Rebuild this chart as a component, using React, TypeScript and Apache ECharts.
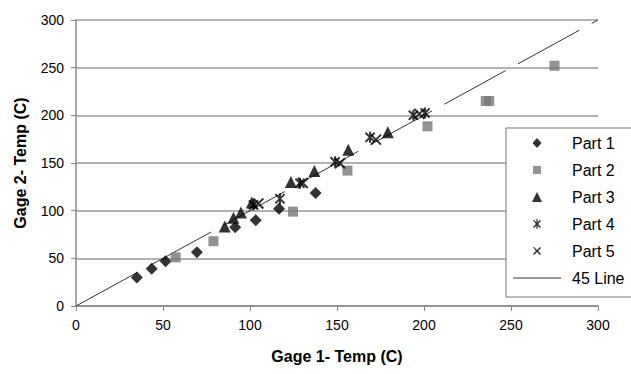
import React, { useEffect, useRef } from "react";
import * as echarts from "echarts";

const part1: number[][] = [[35, 30], [43.5, 39], [51.5, 47], [69.5, 56.5], [91.5, 82.5], [103.3, 90], [116.7, 102], [137.7, 118.5]];
const part2: number[][] = [[57.3, 51], [79, 68], [124.7, 99], [156, 142], [202, 188.5], [235.5, 215], [237.5, 215], [275, 252]];
const part3: number[][] = [[85.5, 83.5], [90.5, 92.5], [94.8, 98], [101, 108.5], [123.5, 130], [137, 141.5], [156.5, 164], [179.2, 182.3]];
const part4: number[][] = [[102, 106], [117.2, 112.5], [128.7, 128.8], [148.9, 151.3], [169, 177], [193.9, 200], [200.6, 202.5]];
const part5: number[][] = [[104.8, 107.5], [130.3, 129], [151.7, 149.7], [172.4, 174.5], [197.3, 201.5]];
const line45: number[][] = [[0, 0], [300, 300]];

const FONT = "'Liberation Sans', Arial, sans-serif";
const STAR = "path://M0,0L10,10M10,0L0,10M5,-1L5,11";
const XMARK = "path://M0,0L10,10M10,0L0,10";
const BOX = "M0,0M48,16";
const X_POLY = "M20,4.1L21.1,4L24,6.9L26.9,4L28,5.1L25.1,8L28,10.9L26.9,12L24,9.1L21.1,12L20,10.9L22.9,8Z";
const ICON_DIAMOND = `path://${BOX}M24,3L28.5,8L24,13L19.5,8Z`;
const ICON_SQUARE = `path://${BOX}M20,4L28,4L28,12L20,12Z`;
const ICON_TRIANGLE = `path://${BOX}M24,3L29,13L19,13Z`;
const ICON_STAR = `path://${BOX}${X_POLY}M23.4,3L24.6,3L24.6,13L23.4,13Z`;
const ICON_X = `path://${BOX}${X_POLY}`;
const ICON_LINE = `path://${BOX}M0,7.5L48,7.5L48,8.5L0,8.5Z`;

export default function App() {
  const ref = useRef<HTMLDivElement>(null);
  useEffect(() => {
    if (!ref.current) return;
    const chart = echarts.init(ref.current, undefined, { renderer: "svg" });
    const solid = { color: "#000", borderWidth: 0 };
    chart.setOption({
      animation: false,
      backgroundColor: "#fff",
      grid: { left: 76, right: 33, top: 20, bottom: 68 },
      xAxis: {
        type: "value",
        min: 0,
        max: 300,
        interval: 50,
        name: "Gage 1- Temp (C)",
        nameLocation: "middle",
        nameGap: 42,
        nameTextStyle: { fontFamily: FONT, fontSize: 16, fontWeight: "bold", color: "#000" },
        axisLine: { show: true, lineStyle: { color: "#888", width: 1.5 } },
        axisTick: { show: true, length: 5, lineStyle: { color: "#888" } },
        axisLabel: { margin: 12, fontFamily: FONT, fontSize: 14, color: "#000" },
        splitLine: { show: false },
      },
      yAxis: {
        type: "value",
        min: 0,
        max: 300,
        interval: 50,
        name: "Gage 2- Temp (C)",
        nameLocation: "middle",
        nameGap: 48,
        nameTextStyle: { fontFamily: FONT, fontSize: 16, fontWeight: "bold", color: "#000" },
        axisLine: { show: true, lineStyle: { color: "#888", width: 1.5 } },
        axisTick: { show: true, length: 5, lineStyle: { color: "#888" } },
        axisLabel: { margin: 12, fontFamily: FONT, fontSize: 14, color: "#000" },
        splitLine: { show: true, lineStyle: { color: "#999", width: 1.5 } },
      },
      legend: {
        orient: "vertical",
        left: 506,
        top: 128,
        padding: [7, 12, 11, 7],
        itemWidth: 48,
        itemHeight: 16,
        itemGap: 11,
        backgroundColor: "#fff",
        borderColor: "#777",
        borderWidth: 1,
        borderRadius: 0,
        data: [
          { name: "Part 1", icon: ICON_DIAMOND },
          { name: "Part 2", icon: ICON_SQUARE },
          { name: "Part 3", icon: ICON_TRIANGLE },
          { name: "Part 4", icon: ICON_STAR, itemStyle: solid },
          { name: "Part 5", icon: ICON_X, itemStyle: solid },
          { name: "45 Line", icon: ICON_LINE },
        ],
        textStyle: { fontFamily: FONT, fontSize: 16, color: "#000", padding: [0, 0, 0, 6] },
      },
      series: [
        {
          name: "45 Line",
          type: "line",
          data: line45,
          symbol: "none",
          itemStyle: { color: "#333" },
          lineStyle: { color: "#333", width: 1, type: [70, 14] },
          z: 1,
        },
        {
          name: "Part 1",
          type: "scatter",
          data: part1,
          symbol: "diamond",
          symbolSize: 12,
          itemStyle: { color: "#000" },
          z: 3,
        },
        {
          name: "Part 2",
          type: "scatter",
          data: part2,
          symbol: "rect",
          symbolSize: 10,
          itemStyle: { color: "#777" },
          z: 3,
        },
        {
          name: "Part 3",
          type: "scatter",
          data: part3,
          symbol: "triangle",
          symbolSize: 12,
          itemStyle: { color: "#000" },
          z: 3,
        },
        {
          name: "Part 4",
          type: "scatter",
          data: part4,
          symbol: STAR,
          symbolSize: 11,
          symbolKeepAspect: true,
          itemStyle: { color: "none", borderColor: "#000", borderWidth: 2 },
          z: 3,
        },
        {
          name: "Part 5",
          type: "scatter",
          data: part5,
          symbol: XMARK,
          symbolSize: 10,
          symbolKeepAspect: true,
          itemStyle: { color: "none", borderColor: "#000", borderWidth: 2 },
          z: 3,
        },
      ],
    });
    return () => chart.dispose();
  }, []);
  return <div ref={ref} style={{ width: 631, height: 374, position: "absolute", left: 0, top: 0 }} />;
}
